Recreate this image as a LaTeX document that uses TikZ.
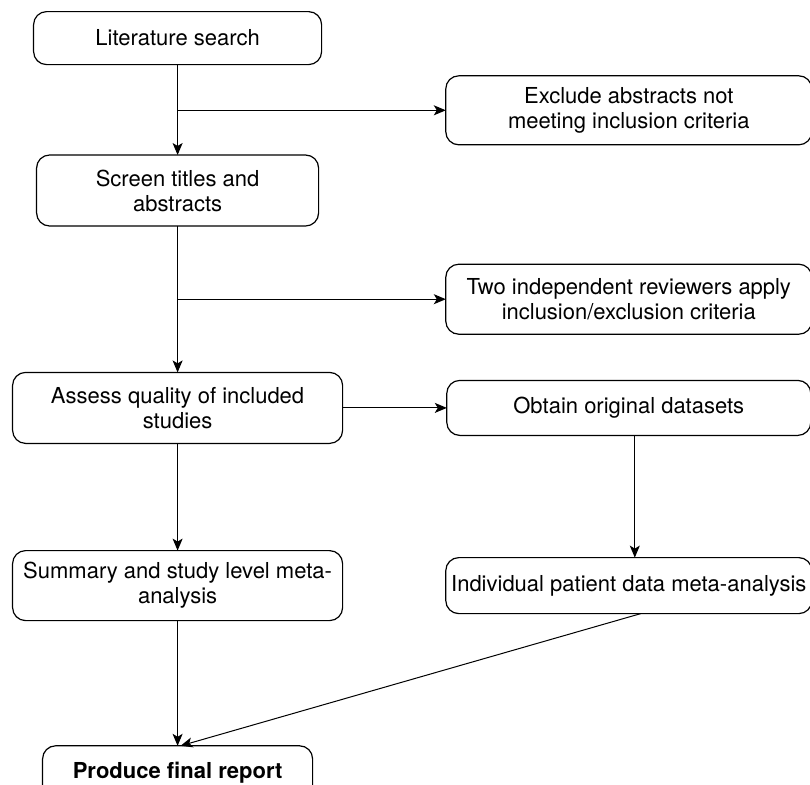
\documentclass[tikz,border=0pt]{standalone}
\usepackage{fontspec}
\setmainfont{TeX Gyre Heros}
\usetikzlibrary{arrows.meta}

\begin{document}
\begin{tikzpicture}
[auto,
block/.style ={rectangle, draw, line width=1.2pt, rounded corners=13pt,
align=center, inner sep=2pt, anchor=center,
font=\fontsize{22}{25}\selectfont},
line/.style ={draw, line width=1pt, -{Stealth[length=12pt,width=10pt,inset=3pt]}}]
\useasboundingbox (0,0) rectangle (810pt,-784pt);
\matrix [column sep=102pt, row sep=0pt, inner sep=0pt, outer sep=0pt,
anchor=north west] at (12pt,-11pt)
{
% row 1 left only
\node [block, minimum width=288pt, minimum height=53pt] (lit) {Literature search}; & \\[10pt]
% row 2 right only
& \node [block, minimum width=366pt, minimum height=69pt] (excl) {Exclude abstracts not\\meeting inclusion criteria}; \\[9pt]
% row 3
\node [block, minimum width=282pt, minimum height=71pt] (screen) {Screen titles and\\abstracts}; & \\[37pt]
% row 4
& \node [block, minimum width=366pt, minimum height=70pt] (two) {Two independent reviewers apply\\inclusion/exclusion criteria}; \\[37pt]
% row 5 has both
\node [block, minimum width=330pt, minimum height=71pt] (assess) {Assess quality of included\\studies}; &
\node [block, minimum width=364pt, minimum height=55pt] (obtain) {Obtain original datasets}; \\[106pt]
% row 6
\node [block, minimum width=330pt, minimum height=70pt] (summary) {Summary and study level meta-\\analysis}; &
\node [block, minimum width=366pt, minimum height=56pt] (indiv) {Individual patient data meta-analysis}; \\[124pt]
% row 7
\node [block, minimum width=270pt, minimum height=53pt, font=\fontsize{22}{25}\selectfont\bfseries] (report) {Produce final report}; & \\
};
\begin{scope}[every path/.style=line]
\path (lit) -- (screen);
\path (lit |- excl) -- (excl);
\path (screen) -- (assess);
\path (screen |- two) -- (two);
\path (assess) -- (obtain);
\path ([xshift=6pt]obtain.south) -- ([xshift=6pt]indiv.north);
\path (assess) -- (summary);
\path (summary) -- (report);
\path ([xshift=12pt]indiv.south) -- ([xshift=3pt]report.north);
\end{scope}
\end{tikzpicture}
\end{document}
